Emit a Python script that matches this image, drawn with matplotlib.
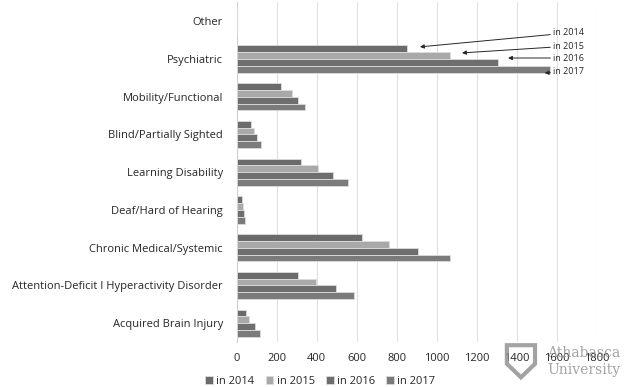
import matplotlib
matplotlib.use("Agg")
import numpy as np
from matplotlib import pyplot as plt
from matplotlib.patches import Polygon

plt.rcParams['font.family'] = ['Open Sans', 'DejaVu Sans']

# categories from bottom to top of the chart
categories = ["Acquired Brain Injury", "Attention-Deficit I Hyperactivity Disorder",
              "Chronic Medical/Systemic", "Deaf/Hard of Hearing", "Learning Disability",
              "Blind/Partially Sighted", "Mobility/Functional", "Psychiatric", "Other"]
years = ["in 2014", "in 2015", "in 2016", "in 2017"]
v2014 = [47, 308, 627, 25, 322, 73, 220, 850, 0]
v2015 = [63, 397, 758, 32, 408, 87, 275, 1065, 0]
v2016 = [93, 497, 907, 35, 480, 100, 307, 1305, 0]
v2017 = [115, 587, 1067, 40, 555, 120, 340, 1563, 0]
colors = ["#6b6b6b", "#a9a9a9", "#6e6e6e", "#7b7b7b"]

fig = plt.figure(figsize=(6.4, 3.87), dpi=100)
ax = fig.add_axes([0.370, 0.116, 0.563, 0.878])

y = np.arange(len(categories))
h = 0.18
series = [v2014, v2015, v2016, v2017]
for j, (vals, c, lab) in enumerate(zip(series, colors, years)):
    ax.barh(y + (1.5 - j) * h, vals, height=h, color=c, edgecolor="#dcdcdc",
            linewidth=0.6, label=lab, zorder=3)

ax.set_xlim(0, 1800)
ax.set_ylim(-0.5, len(categories) - 0.5)
ax.set_xticks(np.arange(0, 1801, 200))
ax.set_yticks(y)
ax.set_yticklabels(categories, fontsize=8, color="#262626")
ax.tick_params(axis="x", labelsize=8, colors="#262626", length=0, pad=8)
ax.tick_params(axis="y", length=0, pad=10)
ax.grid(axis="x", color="#e0e0e0", linewidth=0.8, zorder=0)
for s in ["top", "right", "bottom"]:
    ax.spines[s].set_visible(False)
ax.spines["left"].set_color("#d0d0d0")

# callouts from the year labels to the Psychiatric bars
psy = categories.index("Psychiatric")
text_y = [psy + 0.69, psy + 0.34, psy + 0.025, psy - 0.345]
tip_dx = [65, 60, 50, -25]
tip_dy = [0.05, 0.07, 0.115, -0.10]
for j, vals in enumerate(series):
    ax.annotate(years[j], xy=(vals[psy] + tip_dx[j], psy + (1.5 - j) * h + tip_dy[j]),
                xytext=(1580, text_y[j]), fontsize=6.5, color="#262626",
                va="center", ha="left",
                arrowprops=dict(arrowstyle="-|>", color="#262626", lw=0.7,
                                mutation_scale=6, shrinkA=0, shrinkB=0))

fig.legend(*ax.get_legend_handles_labels(), loc="lower left",
           bbox_to_anchor=(0.305, -0.025), ncol=4, frameon=False, fontsize=8,
           handlelength=0.7, handleheight=0.7, handletextpad=0.3, columnspacing=1.0,
           labelcolor="#262626")

# university watermark
shield = Polygon([(0.792, 0.108), (0.836, 0.108), (0.836, 0.060), (0.814, 0.025),
                  (0.792, 0.060)], closed=True, transform=fig.transFigure,
                 facecolor="none", edgecolor="#8c8c8c", linewidth=3, alpha=0.8)
fig.patches.append(shield)
fig.text(0.855, 0.088, "Athabasca", fontsize=10, family="DejaVu Serif",
         color="#8c8c8c", alpha=0.8, va="center")
fig.text(0.855, 0.043, "University", fontsize=10, family="DejaVu Serif",
         color="#8c8c8c", alpha=0.8, va="center")

fig.savefig("out.png", dpi=100)
